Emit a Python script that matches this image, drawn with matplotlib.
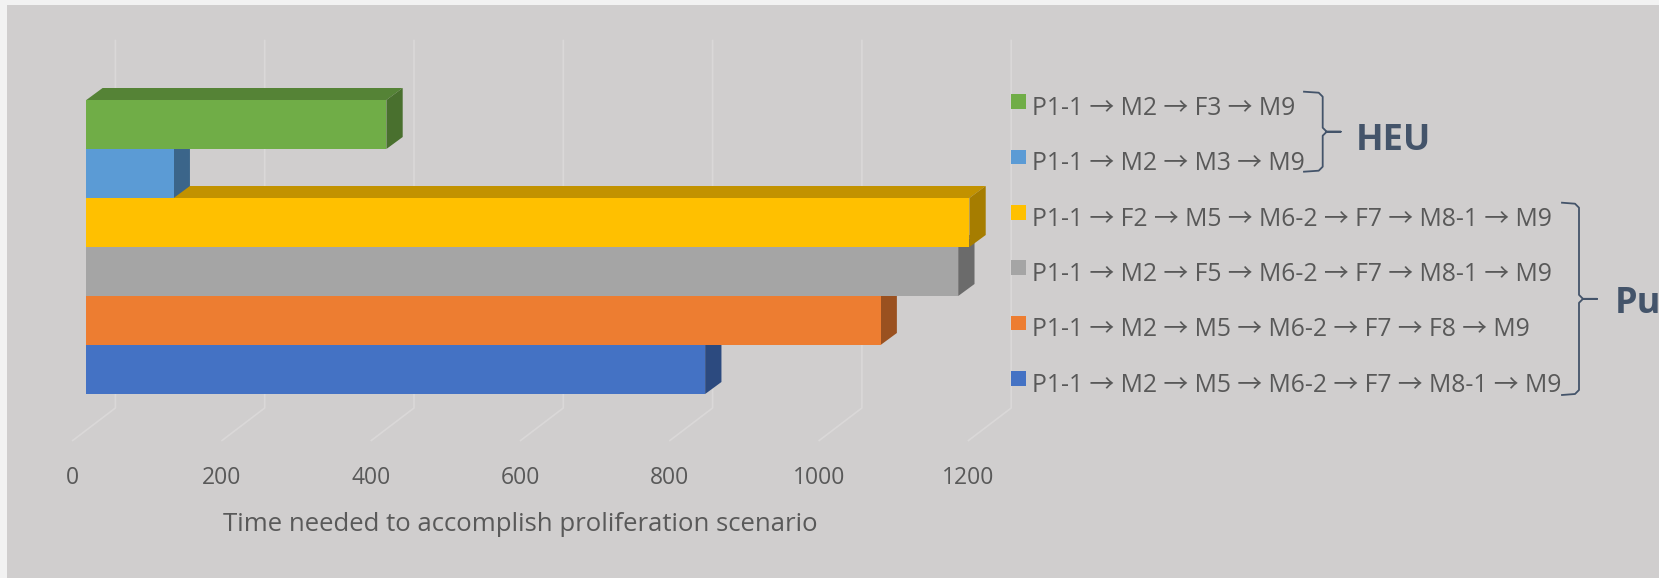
import matplotlib
matplotlib.use('Agg')
import matplotlib.pyplot as plt
from matplotlib.patches import Polygon, Rectangle
from matplotlib.lines import Line2D
from matplotlib.colors import to_rgb

plt.rcParams['font.family'] = ['Open Sans', 'Noto Sans CJK KR', 'DejaVu Sans']

W, H = 1659, 578

# --- data (bottom bar first) ---
scenarios = [
    'P1-1 → M2 → M5 → M6-2 → F7 → M8-1 → M9',
    'P1-1 → M2 → M5 → M6-2 → F7 → F8 → M9',
    'P1-1 → M2 → F5 → M6-2 → F7 → M8-1 → M9',
    'P1-1 → F2 → M5 → M6-2 → F7 → M8-1 → M9',
    'P1-1 → M2 → M3 → M9',
    'P1-1 → M2 → F3 → M9',
]
times = [829, 1064, 1168, 1183, 117, 402]
colors = ['#4472C4', '#ED7D31', '#A5A5A5', '#FFC000', '#5B9BD5', '#70AD47']
x_ticks = [0, 200, 400, 600, 800, 1000, 1200]
xlabel = 'Time needed to accomplish proliferation scenario'
group_names = ['HEU', 'Pu']

# --- layout (pixels) ---
X0, SX = 86.3, 0.7465      # px of value 0 on bar front plane, px per unit
Y0, SY = 394.0, 49.0       # px of bottom of first bar, px per category
BG = '#D0CECE'
GRID = '#DAD8D8'
TXT = '#595959'
BRACE = '#44546A'

def dx(px):
    return px / SX

def dy(px):
    return px / SY

def ydata(py):
    return (Y0 - py) / SY - 0.5

def shade(c, f):
    r, g, b = to_rgb(c)
    return (r * f, g * f, b * f)

fig = plt.figure(figsize=(W / 100, H / 100), dpi=100)
fig.patch.set_facecolor('#F2F2F2')
ax = fig.add_axes([7 / W, 0, 1 - 7 / W, (H - 5) / H])
ax.set_facecolor(BG)
ax.set_xlim((7 - X0) / SX, (W - X0) / SX)
ax.set_ylim(ydata(H), ydata(5))
ax.set_xticks([])
ax.set_yticks([])
for s in ax.spines.values():
    s.set_visible(False)

# 3D depth of the bars and of the floor / back wall
DX, DY = dx(16.3), dy(12.0)
FLOOR_DX, FLOOR_Y = dx(72.7 - X0), ydata(440.5)
WALL_DX, WALL_Y = dx(115.4 - X0), ydata(408.0)
TOP_Y = ydata(40.5)

# gridlines: floor diagonal + back wall vertical
for v in x_ticks:
    ax.plot([v + FLOOR_DX, v + WALL_DX, v + WALL_DX],
            [FLOOR_Y, WALL_Y, TOP_Y], color=GRID, lw=1.2, zorder=1)
    ax.text(v + FLOOR_DX, ydata(484), str(v), ha='center', va='baseline',
            fontsize=16.5, color=TXT)

ax.text(600 + FLOOR_DX, ydata(531), xlabel, ha='center', va='baseline',
        fontsize=18.5, color=TXT)

# bars with side and top faces
for i, (t, c) in enumerate(zip(times, colors)):
    top = [(0, i + 0.5), (t, i + 0.5), (t + DX, i + 0.5 + DY), (DX, i + 0.5 + DY)]
    side = [(t, i - 0.5), (t, i + 0.5), (t + DX, i + 0.5 + DY), (t + DX, i - 0.5 + DY)]
    ax.add_patch(Polygon(top, closed=True, facecolor=shade(c, 0.76),
                         edgecolor='none', zorder=2 + 2 * i))
    ax.add_patch(Polygon(side, closed=True, facecolor=shade(c, 0.65),
                         edgecolor='none', zorder=2 + 2 * i))
    ax.barh(i, t, height=1.0, color=c, edgecolor='none', zorder=3 + 2 * i)

# --- legend (drawn manually, top row = last bar) ---
def fx(x):
    return x / W

def fy(y):
    return 1 - y / H

for k, i in enumerate(reversed(range(len(times)))):
    base = 115 + k * 55.3
    fig.patches.append(Rectangle((fx(1011), fy(base - 6)), 14.7 / W, 14.7 / H,
                                 transform=fig.transFigure,
                                 facecolor=colors[i], edgecolor='none'))
    fig.text(fx(1032.5), fy(base), scenarios[i], ha='left', va='baseline',
             fontsize=17.8, color=TXT)

def brace(xl, xv, xt, yt, yb):
    ym = (yt + yb) / 2
    xs = [xl, xv - 4, xv, xv, xv + 4, xt, xv + 4, xv, xv, xv - 4, xl]
    ys = [yt, yt + 1, yt + 5, ym - 4, ym, ym, ym, ym + 4, yb - 5, yb - 1, yb]
    fig.lines.append(Line2D([fx(x) for x in xs], [fy(y) for y in ys],
                            transform=fig.transFigure, color=BRACE, lw=1.3))

brace(1304, 1322.7, 1340.7, 91.7, 171.7)
brace(1562, 1579, 1597, 202.7, 395)
fig.text(fx(1356), fy(150), group_names[0], ha='left', va='baseline',
         fontsize=26, fontweight='bold', color=BRACE)
fig.text(fx(1614.5), fy(313), group_names[1], ha='left', va='baseline',
         fontsize=26, fontweight='bold', color=BRACE)

fig.savefig('out.png', dpi=100, facecolor=fig.get_facecolor())
